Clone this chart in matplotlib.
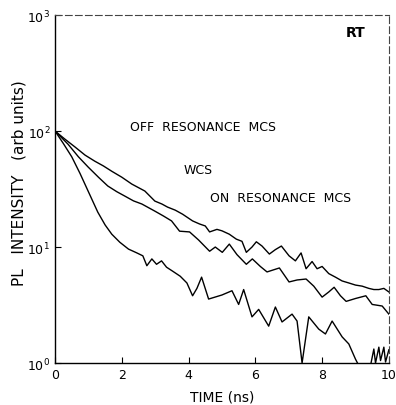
import matplotlib
matplotlib.use("Agg")
import matplotlib.pyplot as plt

# ---- data ----
t_off = [0, 0.3, 0.6, 0.9, 1.19, 1.45, 1.7, 2.0, 2.3, 2.69, 2.99, 3.2, 3.37, 3.6, 3.82,
         4.12, 4.33, 4.5, 4.63, 4.85, 5.0, 5.22, 5.43, 5.6, 5.73, 5.9, 6.03, 6.2, 6.42,
         6.6, 6.78, 7.01, 7.2, 7.37, 7.52, 7.7, 7.85, 8.0, 8.2, 8.4, 8.6, 8.8, 9.0, 9.2,
         9.4, 9.55, 9.7, 9.85, 10.0]
i_off = [100, 85, 72.8, 62, 55, 50, 45, 40, 34.9, 30.4, 24.9, 23.5, 22.1, 20.8, 19.2,
         16.8, 15.8, 15.2, 13.5, 14.2, 13.8, 12.9, 11.7, 11.2, 9.0, 10.0, 11.1, 10.2, 8.7,
         9.5, 10.2, 8.4, 7.6, 8.9, 6.5, 7.5, 6.5, 6.8, 5.9, 5.5, 5.1, 4.9, 4.7, 4.6,
         4.4, 4.3, 4.3, 4.4, 4.1]

t_wcs = [0, 0.39, 0.7, 0.99, 1.3, 1.58, 1.85, 2.09, 2.35, 2.6, 2.99, 3.25, 3.49, 3.73,
         4.03, 4.3, 4.63, 4.8, 5.01, 5.22, 5.45, 5.73, 5.91, 6.15, 6.35, 6.72, 7.01, 7.25,
         7.52, 7.75, 8.0, 8.2, 8.36, 8.55, 8.72, 9.0, 9.31, 9.5, 9.8, 10.0]
i_wcs = [100, 77, 60, 49, 40, 33.6, 30, 27.5, 25, 23.5, 20.4, 18.5, 16.8, 13.7,
         13.5, 11.5, 9.2, 10.0, 9.0, 10.6, 8.6, 7.1, 7.9, 6.8, 6.1, 6.6, 5.0, 5.2,
         5.3, 4.6, 3.7, 4.1, 4.5, 3.8, 3.4, 3.6, 3.8, 3.2, 3.1, 2.64]

t_on = [0, 0.25, 0.5, 0.75, 0.99, 1.28, 1.5, 1.7, 1.94, 2.2, 2.45, 2.63, 2.75, 2.9,
        3.04, 3.19, 3.34, 3.52, 3.75, 3.95, 4.12, 4.25, 4.39, 4.6, 5.0, 5.3, 5.5, 5.65,
        5.9, 6.1, 6.4, 6.6, 6.8, 7.1, 7.25, 7.4, 7.6, 7.9, 8.1, 8.3, 8.6, 8.8, 9.0,
        9.1, 9.3, 9.45, 9.55, 9.6, 9.7, 9.75, 9.85, 9.9, 10.0]
i_on = [100, 78, 60, 43, 30.4, 20, 15.5, 12.9, 11, 9.6, 8.9, 8.4, 6.9, 7.9,
        7.1, 7.6, 6.7, 6.2, 5.6, 4.9, 3.8, 4.4, 5.5, 3.56, 3.86, 4.2, 3.2, 4.3,
        2.5, 2.9, 2.08, 3.04, 2.26, 2.64, 2.3, 1.0, 2.5, 1.96, 1.78, 2.3, 1.68, 1.46, 1.08,
        0.95, 0.8, 0.95, 1.32, 1.0, 1.37, 1.05, 1.37, 1.02, 1.3]

x_ticks = [0, 2, 4, 6, 8, 10]
y_ticks = [1, 10, 100, 1000]
y_tick_labels = [r"$10^0$", r"$10^1$", r"$10^2$", r"$10^3$"]

labels = ["OFF  RESONANCE  MCS", "WCS", "ON  RESONANCE  MCS"]

# ---- figure ----
fig = plt.figure(figsize=(3.96, 4.06), dpi=100)
ax = fig.add_axes([0.139, 0.1034, 0.843, 0.857])

for tt, ii in [(t_off, i_off), (t_wcs, i_wcs), (t_on, i_on)]:
    ax.plot(tt, ii, color="black", lw=1.0)

ax.set_yscale("log")
ax.set_xlim(0, 10)
ax.set_ylim(1, 1000)
ax.set_xticks(x_ticks)
ax.set_xticklabels([str(v) for v in x_ticks])
ax.set_yticks(y_ticks)
ax.set_yticklabels(y_tick_labels)
ax.minorticks_off()
ax.tick_params(direction="in", length=4, width=0.8, labelsize=9, colors="black")

for s in ["top", "right"]:
    ax.spines[s].set_linestyle((0, (6, 3)))
    ax.spines[s].set_color("#444444")
    ax.spines[s].set_linewidth(0.8)
for s in ["left", "bottom"]:
    ax.spines[s].set_linewidth(1.0)

ax.set_xlabel("TIME (ns)", fontsize=10, labelpad=6)
ax.set_ylabel("PL   INTENSITY   (arb units)", fontsize=11, labelpad=1)
ax.yaxis.set_label_coords(-0.085, 0.52)

ax.text(4.42, 110, labels[0], fontsize=9, ha="center", va="center")
ax.text(4.3, 47, labels[1], fontsize=9, ha="center", va="center")
ax.text(6.75, 27, labels[2], fontsize=9, ha="center", va="center")
ax.text(9.0, 713, "RT", fontsize=10, ha="center", va="center", fontweight="bold")

fig.savefig("out.png", dpi=100)
